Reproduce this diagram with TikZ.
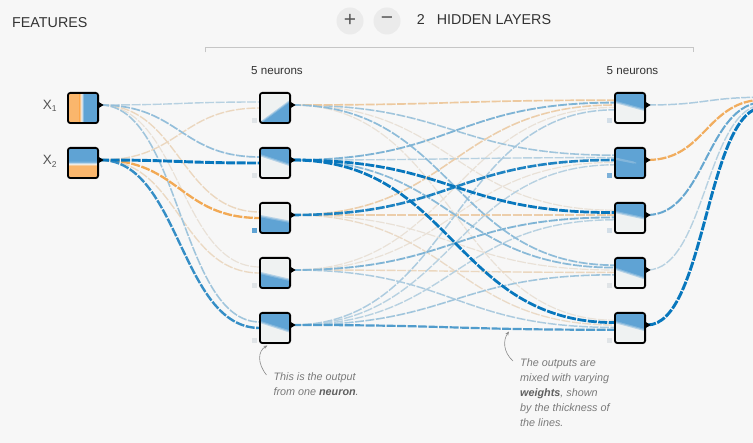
\documentclass[tikz,border=0pt]{standalone}
\usepackage{fontspec}
\setmainfont{Liberation Sans}
\usetikzlibrary{calc,shadows,arrows.meta}
\pgfdeclarelayer{bgl}
\pgfdeclarelayer{links}
\pgfsetlayers{bgl,links,main}
\definecolor{bg}{HTML}{F7F7F7}
\definecolor{lblue}{HTML}{0877BD}
\definecolor{lorange}{HTML}{F59322}
\definecolor{lgray}{HTML}{E8EAEB}
\definecolor{hblue}{HTML}{5FA3D4}
\definecolor{horange}{HTML}{FAB66C}
\definecolor{hlight}{HTML}{EFF2F2}
\definecolor{txt}{HTML}{333333}
\definecolor{xlabc}{HTML}{555555}
\definecolor{notec}{HTML}{7A7A7A}
\definecolor{notebold}{HTML}{606060}
\definecolor{biasgray}{HTML}{E0E4E7}
\definecolor{biasblue}{HTML}{5FA3D4}
\definecolor{biasmid}{HTML}{7DB1D9}
\definecolor{biaspale}{HTML}{D2DEE8}
\definecolor{btnc}{HTML}{EBEBEB}
\definecolor{bracketc}{HTML}{C6C6C6}
\definecolor{arrowc}{HTML}{8A8A8A}

\newcommand\nlink[4]{%
  \pgfmathsetmacro\mylw{1+1.75*abs(#4)}%
  \pgfmathsetmacro\mylp{min(100,100*abs(#4))}%
  \ifdim #4pt<0pt\def\mylc{lorange}\else\def\mylc{lblue}\fi
  \draw[lnk, line width=\mylw pt, draw=\mylc!\mylp!lgray]
    let \p1=($(#1.east)+(2,-3)$), \p2=($(#2)+(0,#3)$) in
    (\p1) .. controls ({0.5*\x1+0.5*\x2},{\y1}) and ({0.5*\x1+0.5*\x2},{\y2}) .. (\p2);}

\tikzset{
  nbox/.style={draw=black, line width=1.8pt, rounded corners=2.5pt,
    minimum width=30.2pt, minimum height=30.2pt, inner sep=0pt, outer sep=0pt,
    fill=hlight, drop shadow={shadow xshift=0.5pt, shadow yshift=-1.2pt, opacity=0.16}},
  hmb/.style 2 args={path picture={\begin{scope}[shift={(path picture bounding box.center)}]
      \fill[hblue!40!hlight] (-17,#1-1.2) -- (17,#2-1.2) -- (17,17) -- (-17,17) -- cycle;
      \fill[hblue!75!hlight] (-17,#1) -- (17,#2) -- (17,17) -- (-17,17) -- cycle;
      \fill[hblue] (-17,#1+1.2) -- (17,#2+1.2) -- (17,17) -- (-17,17) -- cycle;
    \end{scope}}},
  hma/.style 2 args={path picture={\begin{scope}[shift={(path picture bounding box.center)}]
      \fill[hblue!40!hlight] (-17,-17) -- (17,-17) -- (17,#2+1.2) -- (-17,#1+1.2) -- cycle;
      \fill[hblue!75!hlight] (-17,-17) -- (17,-17) -- (17,#2) -- (-17,#1) -- cycle;
      \fill[hblue] (-17,-17) -- (17,-17) -- (17,#2-1.2) -- (-17,#1-1.2) -- cycle;
    \end{scope}}},
  hx1/.style={path picture={\begin{scope}[shift={(path picture bounding box.center)}]
      \fill[horange] (-17,-17) rectangle (-3.5,17);
      \shade[left color=horange, right color=hblue, middle color=hlight] (-3.5,-17) rectangle (0.5,17);
      \fill[hblue] (0.5,-17) rectangle (17,17);
    \end{scope}}},
  hx2/.style={path picture={\begin{scope}[shift={(path picture bounding box.center)}]
      \fill[hblue] (-17,-17) rectangle (17,-1.5);
      \shade[top color=hblue, bottom color=horange, middle color=hlight] (-17,-1.5) rectangle (17,3);
      \fill[horange] (-17,3) rectangle (17,17);
    \end{scope}}},
  hfull/.style={path picture={\begin{scope}[shift={(path picture bounding box.center)}]
      \fill[hblue] (-17,-17) rectangle (17,17);
      \fill[hlight, opacity=0.25] (-17,-6) -- (6,-1) -- (6,1) -- (-17,-3.5) -- cycle;
    \end{scope}}},
  lnk/.style={dash pattern=on 9pt off 1.5pt, line cap=butt},
  hdr/.style={inner sep=0pt, anchor=base west, text=txt, font=\fontsize{14.3}{17}\selectfont},
  neur/.style={inner sep=0pt, anchor=base, text=txt, font=\fontsize{11.6}{14}\selectfont},
  xlab/.style={inner sep=0pt, anchor=base west, text=xlabc, font=\fontsize{13.5}{16}\selectfont},
  notet/.style={inner sep=0pt, anchor=base west, text=notec, font=\fontsize{10.8}{15}\selectfont\itshape},
  btn/.style={circle, fill=btnc, minimum size=27pt, inner sep=0pt, text=xlabc,
    font=\fontsize{21}{21}\selectfont},
  notearrow/.style={draw=arrowc, line width=0.6pt, -{Stealth[length=4pt,width=3.2pt]}}
}

\begin{document}
\begin{tikzpicture}[x=1pt,y=-1pt]
\useasboundingbox (0,0) rectangle (753,443);
\begin{pgfonlayer}{bgl}
  \fill[bg] (0,0) rectangle (753,443);
\end{pgfonlayer}

% header
\node[hdr] (feat) at (12,27.3) {FEATURES};
\node[btn] (plus) at (350,21) {\raisebox{1pt}{+}};
\node[btn] (minus) at (387,21) {\raisebox{1pt}{−}};
\node[hdr] (nlay) at (416.7,25) {2};
\node[hdr] (hlay) at (436.7,25) {HIDDEN LAYERS};
\draw[bracketc, line width=1pt] (205,52.5) -- (205,48) -- (693,48) -- (693,52.5);
\node[neur] (n1lab) at (277,75) {5 neurons};
\node[neur] (n2lab) at (632.5,75) {5 neurons};

% nodes
\node[nbox, hx1] (x1) at (83,108) {};
\node[nbox, hx2] (x2) at (83,163) {};
\node[nbox, hmb={16.5}{-8.5}] (h11) at (275,108) {};
\node[nbox, hma={-8.7}{2.7}] (h12) at (275,163) {};
\node[nbox, hmb={-2.3}{4.3}] (h13) at (275,218) {};
\node[nbox, hmb={-0.5}{7.5}] (h14) at (275,273) {};
\node[nbox, hma={-6.8}{4.2}] (h15) at (275,328) {};
\node[nbox, hma={-6.7}{2.5}] (h21) at (630,108) {};
\node[nbox, hfull] (h22) at (630,163) {};
\node[nbox, hma={-6.5}{0.9}] (h23) at (630,218) {};
\node[nbox, hma={-5}{6}] (h24) at (630,273) {};
\node[nbox, hma={-6.6}{2.6}] (h25) at (630,328) {};
\coordinate (out) at (765,102);

\foreach \n in {x1,x2,h11,h12,h13,h14,h15,h21,h22,h23,h24,h25}
  \fill ($(\n.east)+(-1,-7)$) -- ($(\n.east)+(5.5,-3)$) -- ($(\n.east)+(-1,1)$) -- cycle;

\foreach \n/\c in {h11/biasgray,h12/biasgray,h13/biasblue,h14/biasgray,h15/biasgray,
                   h21/biaspale,h22/biasmid,h23/biaspale,h24/biasgray,h25/biasgray}
  \fill[\c] ($(\n.south west)+(-7.5,-5)$) rectangle ($(\n.south west)+(-2.5,0)$);

% labels
\node[xlab] (lx1) at (42.7,109.3) {X\raisebox{-2.4pt}{\fontsize{8.5}{9}\selectfont 1}};
\node[xlab] (lx2) at (42.7,165) {X\raisebox{-2.4pt}{\fontsize{8.5}{9}\selectfont 2}};

% links
\begin{pgfonlayer}{links}
\nlink{x1}{h14.west}{-6}{-0.1}
\nlink{h11}{h23.west}{-7.8}{-0.1}
\nlink{h11}{h25.west}{-7.8}{-0.1}
\nlink{h13}{h24.west}{-3}{-0.1}
\nlink{h14}{h21.west}{-0.6}{-0.1}
\nlink{h14}{h22.west}{-0.6}{-0.1}
\nlink{x2}{h14.west}{0}{-0.2}
\nlink{h13}{h25.west}{-3}{-0.18}
\nlink{x1}{h11.west}{-6}{0.22}
\nlink{x1}{h13.west}{-6}{-0.22}
\nlink{x2}{h11.west}{0}{-0.22}
\nlink{h12}{h22.west}{-5.4}{0.22}
\nlink{h14}{h24.west}{-0.6}{-0.22}
\nlink{h15}{h22.west}{1.8}{0.22}
\nlink{h15}{h23.west}{1.8}{0.22}
\nlink{h24}{out}{2.4}{0.22}
\nlink{h14}{h25.west}{-0.6}{0.27}
\nlink{h15}{h21.west}{1.8}{0.27}
\nlink{h21}{out}{-4.8}{0.27}
\nlink{x1}{h15.west}{-6}{0.32}
\nlink{h11}{h22.west}{-7.8}{0.32}
\nlink{h13}{h21.west}{-3}{-0.32}
\nlink{h13}{h23.west}{-3}{-0.32}
\nlink{h15}{h24.west}{1.8}{0.32}
\nlink{h11}{h21.west}{-7.8}{-0.38}
\nlink{x1}{h12.west}{-6}{0.38}
\nlink{h11}{h24.west}{-7.8}{0.4}
\nlink{h12}{h24.west}{-5.4}{0.42}
\nlink{h12}{h21.west}{-5.4}{0.47}
\nlink{h14}{h23.west}{-0.6}{0.47}
\nlink{h23}{out}{0}{0.58}
\nlink{h15}{h25.west}{1.8}{0.68}
\nlink{h22}{out}{-2.4}{-0.7}
\nlink{x2}{h13.west}{0}{-0.75}
\nlink{x2}{h15.west}{0}{0.8}
\nlink{h13}{h22.west}{-3}{0.9}
\nlink{h12}{h23.west}{-5.4}{1.0}
\nlink{h12}{h25.west}{-5.4}{1.0}
\nlink{x2}{h12.west}{0}{1.1}
\nlink{h25}{out}{4.8}{1.1}
\end{pgfonlayer}

% notes
\node[notet] (t1a) at (273.3,380.5) {This is the output};
\node[notet] (t1b) at (273.3,395.5) {from one {\color{notebold}\bfseries neuron}.};
\node[notet] (t2a) at (520,366.5) {The outputs are};
\node[notet] (t2b) at (520,381.5) {mixed with varying};
\node[notet] (t2c) at (520,396.5) {{\color{notebold}\bfseries weights}, shown};
\node[notet] (t2d) at (520,411.5) {by the thickness of};
\node[notet] (t2e) at (520,426.5) {the lines.};
\coordinate (a1s) at (266.5,375);
\coordinate (a1t) at (267.5,345.5);
\coordinate (a2s) at (513,361);
\coordinate (a2t) at (509,331.5);
\draw[notearrow] (a1s) .. controls (257,363) and (258,351) .. (a1t);
\draw[notearrow] (a2s) .. controls (503,352) and (503,340) .. (a2t);
\end{tikzpicture}
\end{document}
